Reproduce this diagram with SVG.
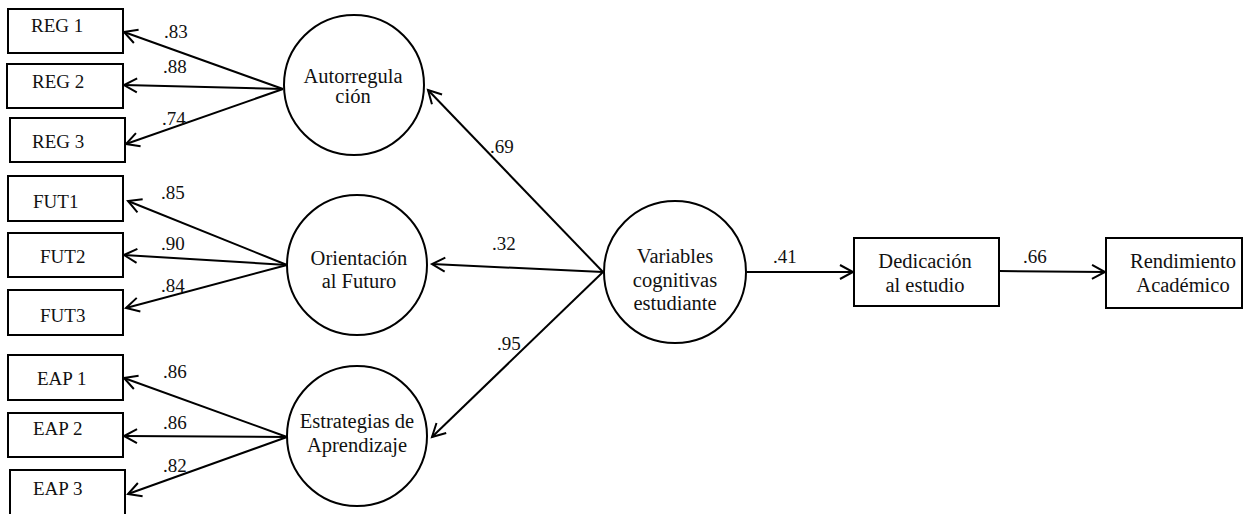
<svg xmlns="http://www.w3.org/2000/svg" width="1243" height="514" viewBox="0 0 1243 514">
<defs>
<style>
.box{fill:#fff;stroke:#000;stroke-width:2}
.lat{fill:#fff;stroke:#000;stroke-width:2}
.t{font-family:'Liberation Serif','Times New Roman',serif;font-size:19px;fill:#111}
.n{font-family:'Liberation Serif','Times New Roman',serif;font-size:20.5px;fill:#111;text-anchor:middle}
.e{fill:none;stroke:#000;stroke-width:2;marker-end:url(#ah)}
</style>
<marker id="ah" markerUnits="userSpaceOnUse" markerWidth="20" markerHeight="20" viewBox="-14 -10 20 20" refX="0" refY="0" orient="auto">
<path d="M-13,-7 L0,0 L-13,7" fill="none" stroke="#000" stroke-width="2"/>
</marker>
</defs>
<rect width="1243" height="514" fill="#fff"/>
<g id="connectors">
<line class="e" x1="283" y1="89" x2="124" y2="32"/>
<line class="e" x1="283" y1="89" x2="124" y2="85"/>
<line class="e" x1="283" y1="89" x2="126" y2="144"/>
<line class="e" x1="287" y1="265" x2="128" y2="201"/>
<line class="e" x1="287" y1="265" x2="124" y2="255"/>
<line class="e" x1="287" y1="265" x2="126" y2="308"/>
<line class="e" x1="287" y1="437" x2="124" y2="378"/>
<line class="e" x1="287" y1="437" x2="124" y2="436"/>
<line class="e" x1="287" y1="437" x2="128" y2="494"/>
<line class="e" x1="603" y1="272" x2="428" y2="90"/>
<line class="e" x1="603" y1="272" x2="432" y2="264"/>
<line class="e" x1="603" y1="272" x2="432" y2="437"/>
<line class="e" x1="747" y1="272" x2="853" y2="272"/>
<line class="e" x1="999" y1="271" x2="1105" y2="272"/>
<text class="t" x="164" y="38">.83</text>
<text class="t" x="163" y="73">.88</text>
<text class="t" x="162" y="125">.74</text>
<text class="t" x="161" y="199">.85</text>
<text class="t" x="161" y="250">.90</text>
<text class="t" x="161" y="292">.84</text>
<text class="t" x="163" y="378">.86</text>
<text class="t" x="163" y="429">.86</text>
<text class="t" x="163" y="472">.82</text>
<text class="t" x="490" y="153">.69</text>
<text class="t" x="492" y="250">.32</text>
<text class="t" x="497" y="350">.95</text>
<text class="t" x="773" y="263">.41</text>
<text class="t" x="1023" y="263">.66</text>
</g>
<g id="reg1"><rect class="box" x="8" y="9" width="115" height="44"/><text class="t" x="31" y="32">REG 1</text></g>
<g id="reg2"><rect class="box" x="7" y="64" width="116" height="44"/><text class="t" x="32" y="88">REG 2</text></g>
<g id="reg3"><rect class="box" x="10" y="118" width="115" height="44"/><text class="t" x="32" y="148">REG 3</text></g>
<g id="fut1"><rect class="box" x="8" y="176" width="115" height="45"/><text class="t" x="33" y="208">FUT1</text></g>
<g id="fut2"><rect class="box" x="8" y="233" width="115" height="44"/><text class="t" x="40" y="263">FUT2</text></g>
<g id="fut3"><rect class="box" x="8" y="290" width="115" height="45"/><text class="t" x="40" y="322">FUT3</text></g>
<g id="eap1"><rect class="box" x="8" y="355" width="115" height="45"/><text class="t" x="37" y="385">EAP 1</text></g>
<g id="eap2"><rect class="box" x="8" y="413" width="115" height="44"/><text class="t" x="33" y="435">EAP 2</text></g>
<g id="eap3"><rect class="box" x="10" y="470" width="115" height="46"/><text class="t" x="33" y="495">EAP 3</text></g>
<g id="autorregulacion"><circle class="lat" cx="354" cy="85" r="70"/><text class="n" x="353" y="83">Autorregula</text><text class="n" x="353" y="103">ción</text></g>
<g id="orientacion"><circle class="lat" cx="357" cy="265" r="70"/><text class="n" x="359" y="265">Orientación</text><text class="n" x="359" y="288">al Futuro</text></g>
<g id="estrategias"><circle class="lat" cx="357" cy="436" r="70"/><text class="n" x="357" y="428">Estrategias de</text><text class="n" x="357" y="452">Aprendizaje</text></g>
<g id="variables"><circle class="lat" cx="675" cy="272" r="71"/><text class="n" x="675" y="263">Variables</text><text class="n" x="675" y="287">cognitivas</text><text class="n" x="675" y="310">estudiante</text></g>
<g id="dedicacion"><rect class="box" x="854" y="238" width="145" height="68"/><text class="n" x="925" y="268">Dedicación</text><text class="n" x="925" y="292">al estudio</text></g>
<g id="rendimiento"><rect class="box" x="1106" y="238" width="136" height="70"/><text class="n" x="1183" y="268">Rendimiento</text><text class="n" x="1183" y="292">Académico</text></g>
</svg>
